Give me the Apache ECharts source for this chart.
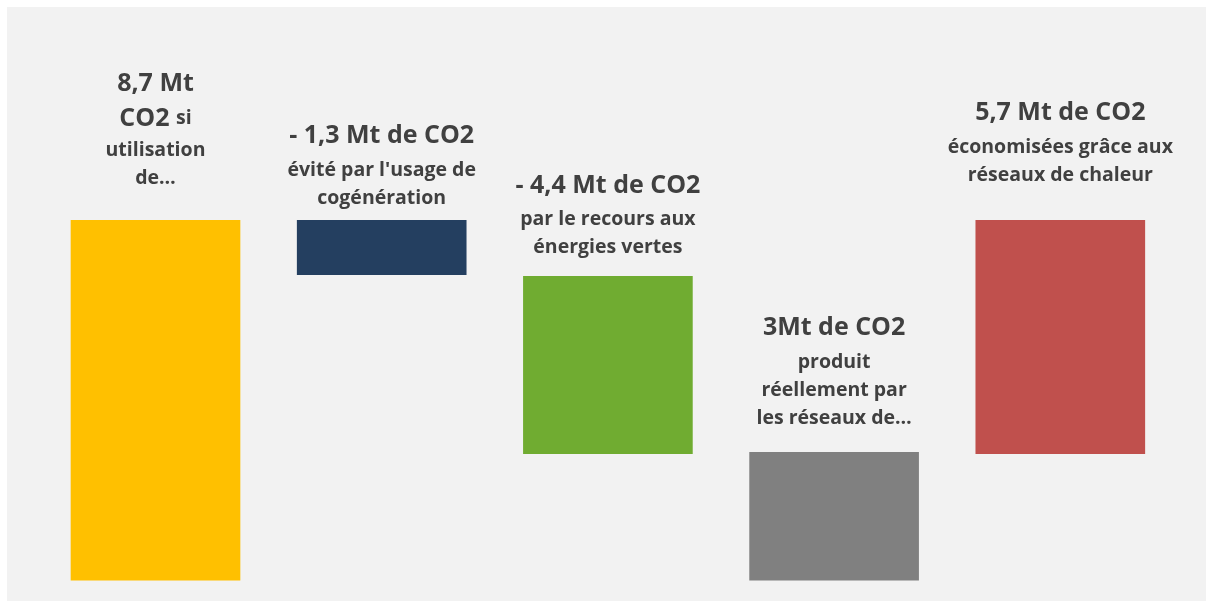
<!DOCTYPE html>
<html>
<head>
  <meta charset="utf-8">
  <title>ECharts</title>
  <script src="https://cdn.jsdelivr.net/npm/echarts@6/dist/echarts.min.js"></script>
  <style>
    body { margin: 0; background: #ffffff; }
    #main { position: absolute; left: 7px; top: 7px; width: 1199px; height: 594px; background: #f2f2f2; }
  </style>
</head>
<body>
<div id="main"></div>
<script type="text/javascript">
  // données (Mt de CO2)
  var categories = ['Sans réseaux', 'Cogénération', 'Énergies vertes', 'Produit', 'Économisé'];
  var baseValues = [0, 7.37, 3.05, 0, 3.05];
  var barValues = [8.7, 1.33, 4.3, 3.1, 5.65];
  var titles = ['8,7 Mt', '- 1,3 Mt de CO2', '- 4,4 Mt de CO2', '3Mt de CO2', '5,7 Mt de CO2'];
  var subLines = [
    ['utilisation', 'de…'],
    ["évité par l'usage de", 'cogénération'],
    ['par le recours aux', 'énergies vertes'],
    ['produit', 'réellement par', 'les réseaux de…'],
    ['économisées grâce aux', 'réseaux de chaleur']
  ];
  var colors = ['#FFC000', '#243F60', '#70AC31', '#808080', '#C0504D'];

  var gaps = [28, 8, 14, 20, 31];

  function buildLabel(i) {
    var lines = [];
    if (i === 0) {
      // premier libellé : titre sur deux lignes, plus serré
      lines.push('{y|' + titles[0] + '}');
      lines.push('{y|CO2 }{ys|si}');
    } else {
      lines.push('{t|' + titles[i] + '}');
    }
    for (var k = 0; k < subLines[i].length; k++) {
      lines.push('{s|' + subLines[i][k] + '}');
    }
    return lines.join('\n');
  }

  var visible = barValues.map(function (v, i) {
    return {
      value: v,
      itemStyle: { color: colors[i] },
      label: { distance: gaps[i] }
    };
  });

  var myChart = echarts.init(document.getElementById('main'));
  var option = {
    animation: false,
    grid: { left: 35.4, right: 32.6, top: 159.1, bottom: 20.5 },
    xAxis: { type: 'category', data: categories, show: false },
    yAxis: { type: 'value', min: 0, max: 10, show: false, splitLine: { show: false } },
    series: [
      {
        type: 'bar',
        stack: 'w',
        data: baseValues,
        itemStyle: { color: 'transparent' },
        barCategoryGap: '25%',
        silent: true
      },
      {
        type: 'bar',
        stack: 'w',
        data: visible,
        barCategoryGap: '25%',
        label: {
          show: true,
          position: 'top',
          formatter: function (p) { return buildLabel(p.dataIndex); },
          color: '#404040',
          fontFamily: 'Open Sans',
          fontWeight: 'bold',
          fontSize: 20,
          align: 'center',
          rich: {
            t: { fontFamily: 'Open Sans', fontWeight: 'bold', fontSize: 25, lineHeight: 40, color: '#404040' },
            y: { fontFamily: 'Open Sans', fontWeight: 'bold', fontSize: 25, lineHeight: 35, color: '#404040' },
            ys: { fontFamily: 'Open Sans', fontWeight: 'bold', fontSize: 19.5, lineHeight: 35, color: '#404040' },
            s: { fontFamily: 'Open Sans', fontWeight: 'bold', fontSize: 19.5, lineHeight: 28, color: '#404040' }
          }
        }
      }
    ]
  };
  myChart.setOption(option);
</script>
</body>
</html>
